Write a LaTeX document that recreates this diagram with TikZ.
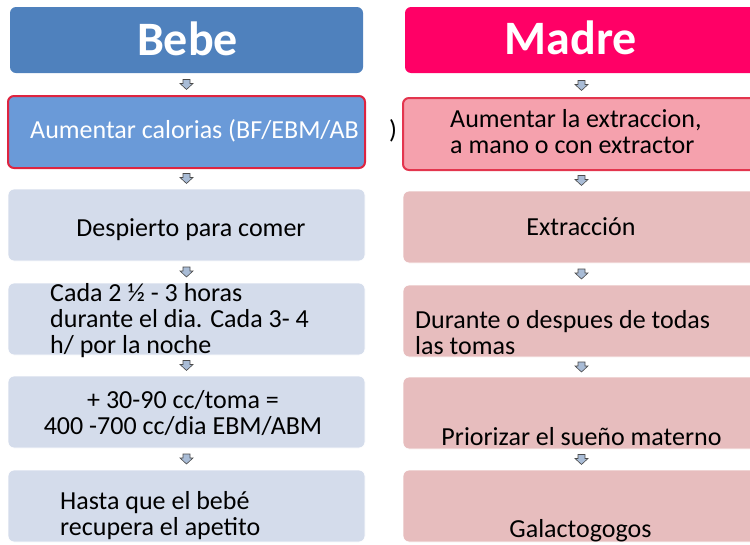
\documentclass[tikz,border=0pt]{standalone}
\usepackage{fontspec}
\setmainfont{Carlito}
\usetikzlibrary{calc}
\definecolor{bebeblue}{HTML}{4F81BD}
\definecolor{madrepink}{HTML}{FF0066}
\definecolor{hiblue}{HTML}{6A9AD8}
\definecolor{hired}{HTML}{DE2440}
\definecolor{hipink}{HTML}{F5A1AD}
\definecolor{hipinkborder}{HTML}{E3354E}
\definecolor{lblue}{HTML}{D4DCEB}
\definecolor{lpink}{HTML}{E7BDBE}
\definecolor{arrowfill}{HTML}{A9BCD6}
\definecolor{arrowline}{HTML}{4A4A4A}
\newcommand{\leftlines}[1]{\vtop{\halign{##\hfil\cr#1\crcr}}}
\newcommand{\centerlines}[1]{\vtop{\halign{\hfil##\hfil\cr#1\crcr}}}
\tikzset{
  boxbase/.style={rectangle, rounded corners=6pt, anchor=north west, outer sep=0pt, inner sep=0pt, minimum width=357pt, minimum height=72pt},
  header/.style={boxbase, draw=none, minimum width=353pt, minimum height=66pt},
  lbox/.style={boxbase, fill=lblue, draw=white, line width=0.8pt},
  rbox/.style={boxbase, fill=lpink, draw=white, line width=0.8pt},
  lhi/.style={boxbase, fill=hiblue, draw=hired, line width=2pt},
  rhi/.style={boxbase, fill=hipink, draw=hipinkborder, line width=2pt},
  headtext/.style={font=\fontsize{48}{52}\selectfont\bfseries, text=white, inner sep=0pt, anchor=base},
  bodytext/.style={font=\fontsize{26}{26}\selectfont, text=black, inner sep=0pt},
  blockarrow/.pic={\draw[fill=arrowfill, draw=arrowline, line width=0.6pt, line join=miter]
     (-3.5,-5) -- (3.5,-5) -- (3.5,-1) -- (6.5,-1) -- (0,5) -- (-6.5,-1) -- (-3.5,-1) -- cycle;}
}
\begin{document}
\begin{tikzpicture}[x=1pt,y=-1pt]
\clip (0,0) rectangle (750,544);
% left column
\node[header, fill=bebeblue] (lh) at (10,7) {};
\node[lhi] (l1) at (8,96) {};
\node[lbox] (l2) at (8,189) {};
\node[lbox] (l3) at (8,283) {};
\node[lbox] (l4) at (8,376) {};
\node[lbox] (l5) at (8,470) {};
% right column
\node[header, fill=madrepink] (rh) at (405,7) {};
\node[rhi] (r1) at (403,98) {};
\node[rbox] (r2) at (403,191) {};
\node[rbox] (r3) at (403,285) {};
\node[rbox] (r4) at (403,377) {};
\node[rbox] (r5) at (403,470) {};
% connectors
\foreach \a/\b in {lh/l1,l1/l2,l2/l3,l3/l4,l4/l5,rh/r1,r1/r2,r2/r3,r3/r4,r4/r5}
  \pic at ($(\a.south)!0.5!(\b.north)$) {blockarrow};
% texts
\node[headtext] (tlh) at (187.5,55) {Bebe};
\node[headtext] (trh) at (571,54) {Madre};
\begin{scope}
\clip (8,96) rectangle (365,168);
\node[bodytext, text=white, anchor=base west] (tl1) at (30,138) {Aumentar calorias (BF/EBM/AB};
\end{scope}
\node[bodytext, anchor=base] (tl1b) at (393,138) {)};
\node[bodytext, anchor=base] (tl2) at (191,236.5) {Despierto para comer};
\node[bodytext, anchor=base west] (tl3) at (50,301.5) {\leftlines{Cada 2 ½ - 3 horas\cr durante el dia. Cada 3- 4\cr h/ por la noche}};
\node[bodytext, anchor=base] (tl4) at (183,408) {\centerlines{+ 30-90 cc/toma =\cr 400 -700 cc/dia EBM/ABM}};
\node[bodytext, anchor=base west] (tl5) at (60,509) {\leftlines{Hasta que el bebé\cr recupera el apetito}};
\node[bodytext, anchor=base west] (tr1) at (450,127) {\leftlines{Aumentar la extraccion,\cr a mano o con extractor}};
\node[bodytext, anchor=base] (tr2) at (581,235) {Extracción};
\node[bodytext, anchor=base west] (tr3) at (415,328) {\leftlines{Durante o despues de todas\cr las tomas}};
\node[bodytext, anchor=base] (tr4) at (581.5,445) {Priorizar el sueño materno};
\node[bodytext, anchor=base] (tr5) at (580.5,537) {Galactogogos};
\end{tikzpicture}
\end{document}
